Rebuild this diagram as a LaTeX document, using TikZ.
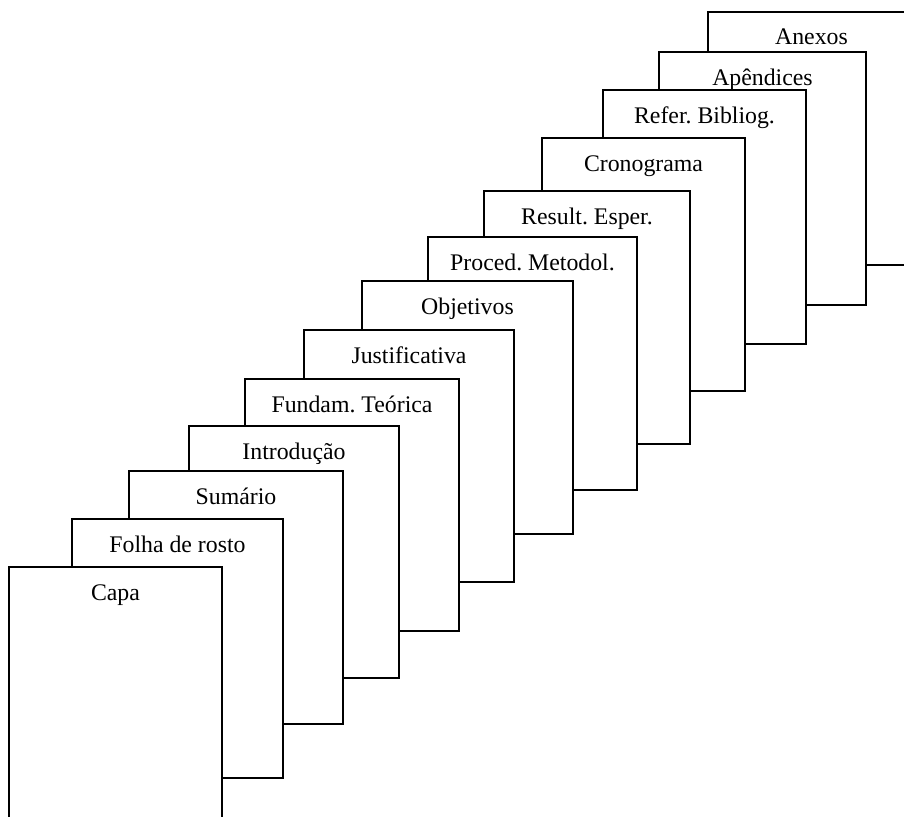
\documentclass[tikz,border=0pt]{standalone}
\usepackage{fontspec}
\setmainfont{Liberation Serif}
\frenchspacing
\begin{document}
\begin{tikzpicture}[x=1pt,y=-1pt,
  page/.style={draw=black,fill=white,line width=1.6pt},
  lbl/.style={anchor=base,inner sep=0pt,font=\fontsize{23.8}{28}\selectfont}]
\useasboundingbox (0,0) rectangle (904,816);
\clip (0,0) rectangle (904,816);
% pages, back to front
\foreach \l/\t/\r/\b/\txt/\nm in {
  708/12/915/265/Anexos/p13,
  659/52/866/305/Apêndices/p12,
  603/90/806/344/Refer. Bibliog./p11,
  542/138/745/391/Cronograma/p10,
  484/191/690/444/Result. Esper./p9,
  428/237/637/490/Proced. Metodol./p8,
  362/281/573/534/Objetivos/p7,
  304/330/514/582/Justificativa/p6,
  245/379/459/631/Fundam. Teórica/p5,
  189/426/399/678/Introdução/p4,
  129/471/343/724/Sumário/p3,
  72/519/283/778/Folha de rosto/p2,
  9/567/222/824/Capa/p1}{
  \path[page] (\l,\t) rectangle (\r,\b);
  \pgfmathsetmacro{\cx}{(\l+\r)/2}
  \pgfmathsetmacro{\by}{\t+33}
  \node[lbl] (\nm) at (\cx,\by) {\txt};
}
\end{tikzpicture}
\end{document}
